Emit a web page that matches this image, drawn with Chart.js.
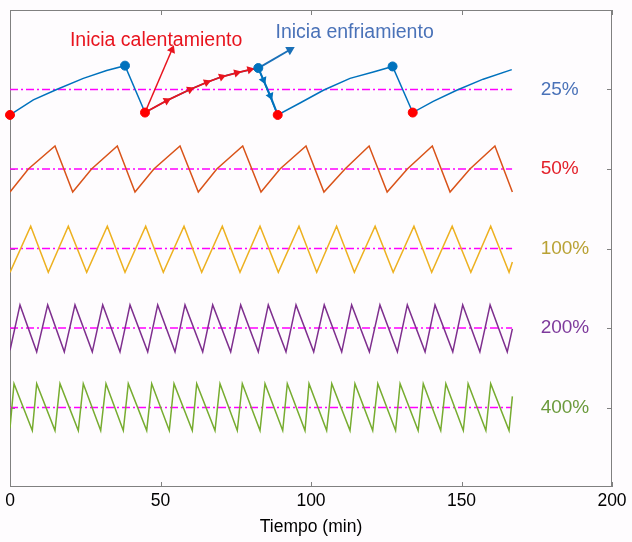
<!DOCTYPE html>
<html>
<head>
<meta charset="utf-8">
<script src="https://cdn.jsdelivr.net/npm/chart.js@4.4.0/dist/chart.umd.min.js"></script>
<style>
  html, body { margin: 0; padding: 0; background: #fefcfe; }
  #wrap { width: 632px; height: 542px; }
</style>
</head>
<body>
<div id="wrap"><canvas id="myChart" width="632" height="542"></canvas></div>
<script>
// x ticks
var xTicks = [0, 50, 100, 150, 200];

// 25% curve (time in min, level)
var pct25X = [0, 7.75, 15.5, 24.35, 32.1, 38.2, 44.85, 52.06, 59.8, 65.35, 70.33, 75.32, 82.49, 88.94, 96.35, 104.1, 112.96, 120.7, 127.1, 133.8, 140.6, 148.4, 157.2, 166.7];
var pct25Y = [4.68, 4.87, 5.00, 5.14, 5.24, 5.30, 4.71, 4.86, 5.00, 5.09, 5.16, 5.21, 5.27, 4.68, 4.83, 4.99, 5.14, 5.22, 5.29, 4.71, 4.85, 4.99, 5.13, 5.25];

// 50%
var pct50X = [0, 6.1, 14.95, 20.83, 27.1, 35.65, 41.53, 47.8, 56.48, 62.56, 68.7, 77.31, 83.39, 89.7, 98.34, 104.3, 111.3, 119.3, 125.3, 132.0, 140.3, 146.2, 152.8, 161.1, 166.9];
var pct50Y = [3.71, 4.00, 4.29, 3.71, 4.00, 4.29, 3.71, 4.00, 4.29, 3.71, 4.00, 4.29, 3.71, 4.00, 4.29, 3.71, 4.00, 4.29, 3.71, 4.00, 4.29, 3.71, 4.00, 4.29, 3.71];

// 100%
var pct100X = [0, 6.88, 12.72, 19.37, 25.48, 32.33, 38.21, 45.08, 50.93, 57.81, 63.69, 70.53, 76.41, 83.06, 89.14, 96.01, 101.9, 108.5, 114.4, 121.3, 127.3, 134.2, 140.1, 146.9, 153.1, 159.7, 165.8, 166.9];
var pct100Y = [2.70, 3.28, 2.70, 3.28, 2.70, 3.28, 2.70, 3.28, 2.70, 3.28, 2.70, 3.28, 2.70, 3.28, 2.70, 3.28, 2.70, 3.28, 2.70, 3.28, 2.70, 3.28, 2.70, 3.28, 2.70, 3.28, 2.70, 2.83];

// 200%
var pct200X = [0, 3.32, 8.87, 12.52, 18.04, 21.59, 27.34, 30.80, 36.54, 39.87, 45.75, 49.07, 54.82, 58.14, 64.02, 67.34, 73.32, 76.64, 82.49, 85.81, 91.69, 95.02, 100.9, 104.4, 110.2, 113.5, 119.4, 122.9, 128.7, 132.0, 137.9, 141.2, 147.1, 150.4, 156.1, 159.5, 165.2, 166.9];
var pct200Y = [1.72, 2.29, 1.70, 2.29, 1.70, 2.29, 1.70, 2.29, 1.70, 2.29, 1.70, 2.29, 1.70, 2.29, 1.70, 2.29, 1.70, 2.29, 1.70, 2.29, 1.70, 2.29, 1.70, 2.29, 1.70, 2.29, 1.70, 2.29, 1.70, 2.29, 1.70, 2.29, 1.70, 2.29, 1.70, 2.29, 1.70, 1.99];

// 400%
var pct400X = [0, 1.33, 7.41, 8.87, 14.95, 16.61, 22.69, 24.35, 30.13, 31.89, 37.64, 39.30, 45.42, 47.08, 52.92, 54.49, 60.56, 62.03, 68.11, 69.77, 75.51, 77.18, 83.06, 84.72, 90.60, 92.13, 98.01, 99.34, 105.2, 106.9, 112.96, 114.6, 120.5, 122.2, 128.1, 129.6, 135.6, 137.3, 143.1, 144.8, 150.6, 152.2, 158.1, 159.7, 165.8, 166.9];
var pct400Y = [0.74, 1.30, 0.71, 1.30, 0.71, 1.30, 0.71, 1.30, 0.71, 1.30, 0.71, 1.30, 0.71, 1.30, 0.71, 1.30, 0.71, 1.30, 0.71, 1.30, 0.71, 1.30, 0.71, 1.30, 0.71, 1.30, 0.71, 1.30, 0.71, 1.30, 0.71, 1.30, 0.71, 1.30, 0.71, 1.30, 0.71, 1.30, 0.71, 1.30, 0.71, 1.30, 0.71, 1.30, 0.71, 1.14];

// setpoint levels and their labels
var setLevels = [5, 4, 3, 2, 1];
var setLabels = ['25%', '50%', '100%', '200%', '400%'];
var setEndX = 166.8;

// heating / cooling overlay on the 25% curve
var heatX = [44.85, 52.06, 59.8, 65.35, 70.33, 75.32, 79.7, 82.49];
var heatY = [4.71, 4.86, 5.00, 5.09, 5.16, 5.21, 5.25, 5.27];
var coolX = [82.49, 84.2, 86.5, 88.94];
var coolY = [5.27, 5.12, 4.92, 4.68];

// switching points
var peakX = [38.2, 82.49, 127.1];
var peakY = [5.30, 5.27, 5.29];
var troughX = [0, 44.85, 88.94, 133.8];
var troughY = [4.68, 4.71, 4.68, 4.71];

// annotation arrows
var heatArrowX = [44.85, 53.8];
var heatArrowY = [4.71, 5.50];
var coolArrowX = [82.49, 93.0];
var coolArrowY = [5.27, 5.50];

function pts(xs, ys) {
  return xs.map(function (x, i) { return { x: x, y: ys[i] }; });
}

var FONT = 'Arial, "Liberation Sans", sans-serif';
var seriesColors = ['#0072BD', '#D95319', '#EDB120', '#7E2F8E', '#77AC30'];
var labelColors = ['#4a72b8', '#e3202a', '#b9a235', '#7e3a9c', '#6b9a3c'];

var datasets = [];

// setpoint lines first (drawn under curves)
setLevels.forEach(function (lv) {
  datasets.push({
    data: [{ x: 0, y: lv }, { x: setEndX, y: lv }],
    borderColor: '#ff00ff',
    borderWidth: 1.5,
    borderDash: [8, 3, 2, 3],
    pointRadius: 0,
    order: 10
  });
});

var series = [[pct25X, pct25Y], [pct50X, pct50Y], [pct100X, pct100Y], [pct200X, pct200Y], [pct400X, pct400Y]];
series.forEach(function (s, i) {
  datasets.push({
    data: pts(s[0], s[1]),
    borderColor: seriesColors[i],
    borderWidth: 1.5,
    pointRadius: 0,
    order: 5
  });
});

// red heating overlay with arrowheads
datasets.push({
  data: pts(heatX, heatY),
  borderColor: '#e8141e',
  backgroundColor: '#e8141e',
  borderWidth: 1.8,
  pointStyle: 'triangle',
  pointRadius: [0, 3, 3, 3, 3, 3, 3, 0],
  pointRotation: [0, 62, 65, 68, 70, 75, 76, 0],
  order: 3
});
// blue cooling overlay with arrowheads
datasets.push({
  data: pts(coolX, coolY),
  borderColor: '#0072BD',
  backgroundColor: '#0072BD',
  borderWidth: 2,
  pointStyle: 'triangle',
  pointRadius: [0, 2.8, 2.8, 0],
  pointRotation: [0, 157, 157, 0],
  order: 3
});
// annotation arrows
datasets.push({
  data: pts(heatArrowX, heatArrowY),
  borderColor: '#e8141e',
  backgroundColor: '#e8141e',
  borderWidth: 1.5,
  pointStyle: 'triangle',
  pointRadius: [0, 3.5],
  pointRotation: [0, 23],
  order: 3
});
datasets.push({
  data: pts(coolArrowX, coolArrowY),
  borderColor: '#1a70b8',
  backgroundColor: '#1a70b8',
  borderWidth: 2,
  pointStyle: 'triangle',
  pointRadius: [0, 3.5],
  pointRotation: [0, 61],
  order: 3
});
// switch point markers
datasets.push({
  data: pts(peakX, peakY),
  showLine: false,
  clip: false,
  pointRadius: 4.5,
  pointBackgroundColor: '#0072BD',
  pointBorderColor: '#0072BD',
  order: 1
});
datasets.push({
  data: pts(troughX, troughY),
  showLine: false,
  clip: false,
  pointRadius: 4.5,
  pointBackgroundColor: '#ff0000',
  pointBorderColor: '#ff0000',
  order: 1
});

// frame, inward ticks and text labels
var framePlugin = {
  id: 'frame',
  beforeDatasetsDraw: function (chart) {
    var ctx = chart.ctx;
    var a = chart.chartArea;
    var xs = chart.scales.x, ys = chart.scales.y;
    ctx.save();
    ctx.strokeStyle = '#808080';
    ctx.lineWidth = 1;
    ctx.strokeRect(a.left + 0.5, a.top + 0.5, a.right - a.left - 1, a.bottom - a.top - 1);
    ctx.beginPath();
    xTicks.forEach(function (t) {
      var px = Math.round(xs.getPixelForValue(t)) + 0.5;
      ctx.moveTo(px, a.bottom); ctx.lineTo(px, a.bottom - 5);
      ctx.moveTo(px, a.top); ctx.lineTo(px, a.top + 5);
    });
    setLevels.forEach(function (lv) {
      var py = Math.round(ys.getPixelForValue(lv)) + 0.5;
      ctx.moveTo(a.right, py); ctx.lineTo(a.right - 5, py);
      ctx.moveTo(a.left, py); ctx.lineTo(a.left + 5, py);
    });
    ctx.stroke();
    ctx.restore();
  },
  afterDraw: function (chart) {
    var ctx = chart.ctx;
    var xs = chart.scales.x, ys = chart.scales.y;
    ctx.save();
    ctx.font = '19px ' + FONT;
    ctx.textBaseline = 'middle';
    ctx.textAlign = 'left';
    setLevels.forEach(function (lv, i) {
      ctx.fillStyle = labelColors[i];
      ctx.fillText(setLabels[i], xs.getPixelForValue(176.3), ys.getPixelForValue(lv));
    });
    ctx.font = '19.5px ' + FONT;
    ctx.fillStyle = '#e8141e';
    ctx.fillText('Inicia calentamiento', xs.getPixelForValue(19.9), ys.getPixelForValue(5.62));
    ctx.fillStyle = '#4a72b8';
    ctx.fillText('Inicia enfriamiento', xs.getPixelForValue(88.2), ys.getPixelForValue(5.71));
    ctx.restore();
  }
};

var ctx = document.getElementById('myChart');
new Chart(ctx, {
  type: 'line',
  data: { datasets: datasets },
  options: {
    responsive: false,
    animation: false,
    layout: { padding: { left: 10, right: 20, top: 10, bottom: 0 } },
    plugins: { legend: { display: false }, tooltip: { enabled: false } },
    scales: {
      x: {
        type: 'linear',
        min: 0,
        max: 200,
        afterBuildTicks: function (scale) {
          scale.ticks = xTicks.map(function (v) { return { value: v }; });
        },
        afterFit: function (scale) { scale.height = 55; },
        grid: { display: false, drawTicks: false },
        border: { display: false },
        ticks: { color: '#000', font: { family: FONT, size: 17.5 }, padding: 4, maxRotation: 0 },
        title: { display: true, text: 'Tiempo (min)', color: '#000', font: { family: FONT, size: 17.5 }, padding: { top: 0, bottom: 4 } }
      },
      y: {
        type: 'linear',
        min: 0,
        max: 6,
        display: false
      }
    }
  },
  plugins: [framePlugin]
});
</script>
</body>
</html>
